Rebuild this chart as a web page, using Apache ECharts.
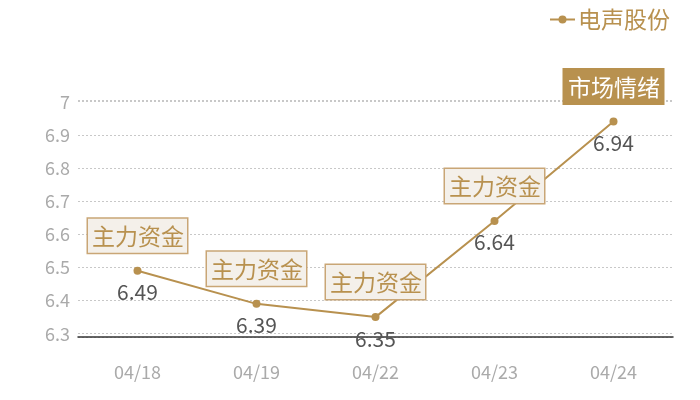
<!DOCTYPE html>
<html>
<head>
<meta charset="utf-8">
<script src="https://cdn.jsdelivr.net/npm/echarts@6/dist/echarts.min.js"></script>
<style>
  html, body { margin: 0; padding: 0; background: #fff; }
  #chart { width: 700px; height: 400px; }
</style>
</head>
<body>
<div id="chart"></div>
<script>
// ── Datos ────────────────────────────────────────────────────────────────
const DATES  = ['04/18', '04/19', '04/22', '04/23', '04/24'];
const PRICES = [6.49, 6.39, 6.35, 6.64, 6.94];
const TAGS   = ['主力资金', '主力资金', '主力资金', '主力资金', '市场情绪'];
const SERIES_NAME = '电声股份';

const GOLD = '#b8914f';
const FONT = '"Noto Sans CJK SC", "Noto Sans", sans-serif';

function _tagLabel(tag) {
  const hot = tag === '市场情绪';
  return {
    show: true,
    position: 'top',
    distance: 18,
    formatter: tag,
    fontSize: 23,
    lineHeight: 25,
    fontFamily: FONT,
    color: hot ? '#fff' : GOLD,
    backgroundColor: hot ? GOLD : '#f4f0ea',
    borderColor: hot ? GOLD : '#c9a676',
    borderWidth: 1.5,
    padding: [5, 3, 4, 4],
  };
}

const markData = TAGS.map((tag, i) => ({
  coord: [i, PRICES[i]],
  symbolSize: 0,
  label: _tagLabel(tag),
}));

const chart = echarts.init(document.getElementById('chart'), null, { renderer: 'canvas' });

chart.setOption({
  textStyle: { fontFamily: FONT },
  animation: false,
  legend: {
    top: 3,
    right: 25,
    itemWidth: 25,
    itemHeight: 10,
    itemGap: 10,
    textStyle: { color: GOLD, fontSize: 23, fontFamily: FONT, padding: [0, 0, 0, -2] },
    data: [SERIES_NAME],
  },
  grid: { left: 78, right: 27, top: 100, bottom: 63 },
  xAxis: {
    type: 'category',
    data: DATES,
    axisLine: { lineStyle: { color: '#333', width: 1.5 } },
    axisTick: { show: false },
    axisLabel: { color: '#aaa', fontSize: 18, margin: 26 },
  },
  yAxis: {
    type: 'value',
    min: 6.29,
    max: 7.005,
    axisLine: { show: false },
    axisTick: { show: false },
    axisLabel: { color: '#aaa', fontSize: 18, margin: 8 },
    splitLine: { lineStyle: { color: '#c8c8c8', type: [2, 2], width: 1 } },
  },
  series: [{
    name: SERIES_NAME,
    type: 'line',
    data: PRICES,
    symbol: 'circle',
    symbolSize: 8,
    itemStyle: { color: GOLD },
    lineStyle: { color: GOLD, width: 2 },
    label: {
      show: true,
      position: 'bottom',
      distance: 7,
      color: '#555',
      fontSize: 21,
      fontFamily: FONT,
    },
    markPoint: {
      symbol: 'circle',
      symbolSize: 0,
      data: markData,
    },
  }],
});
</script>
</body>
</html>
